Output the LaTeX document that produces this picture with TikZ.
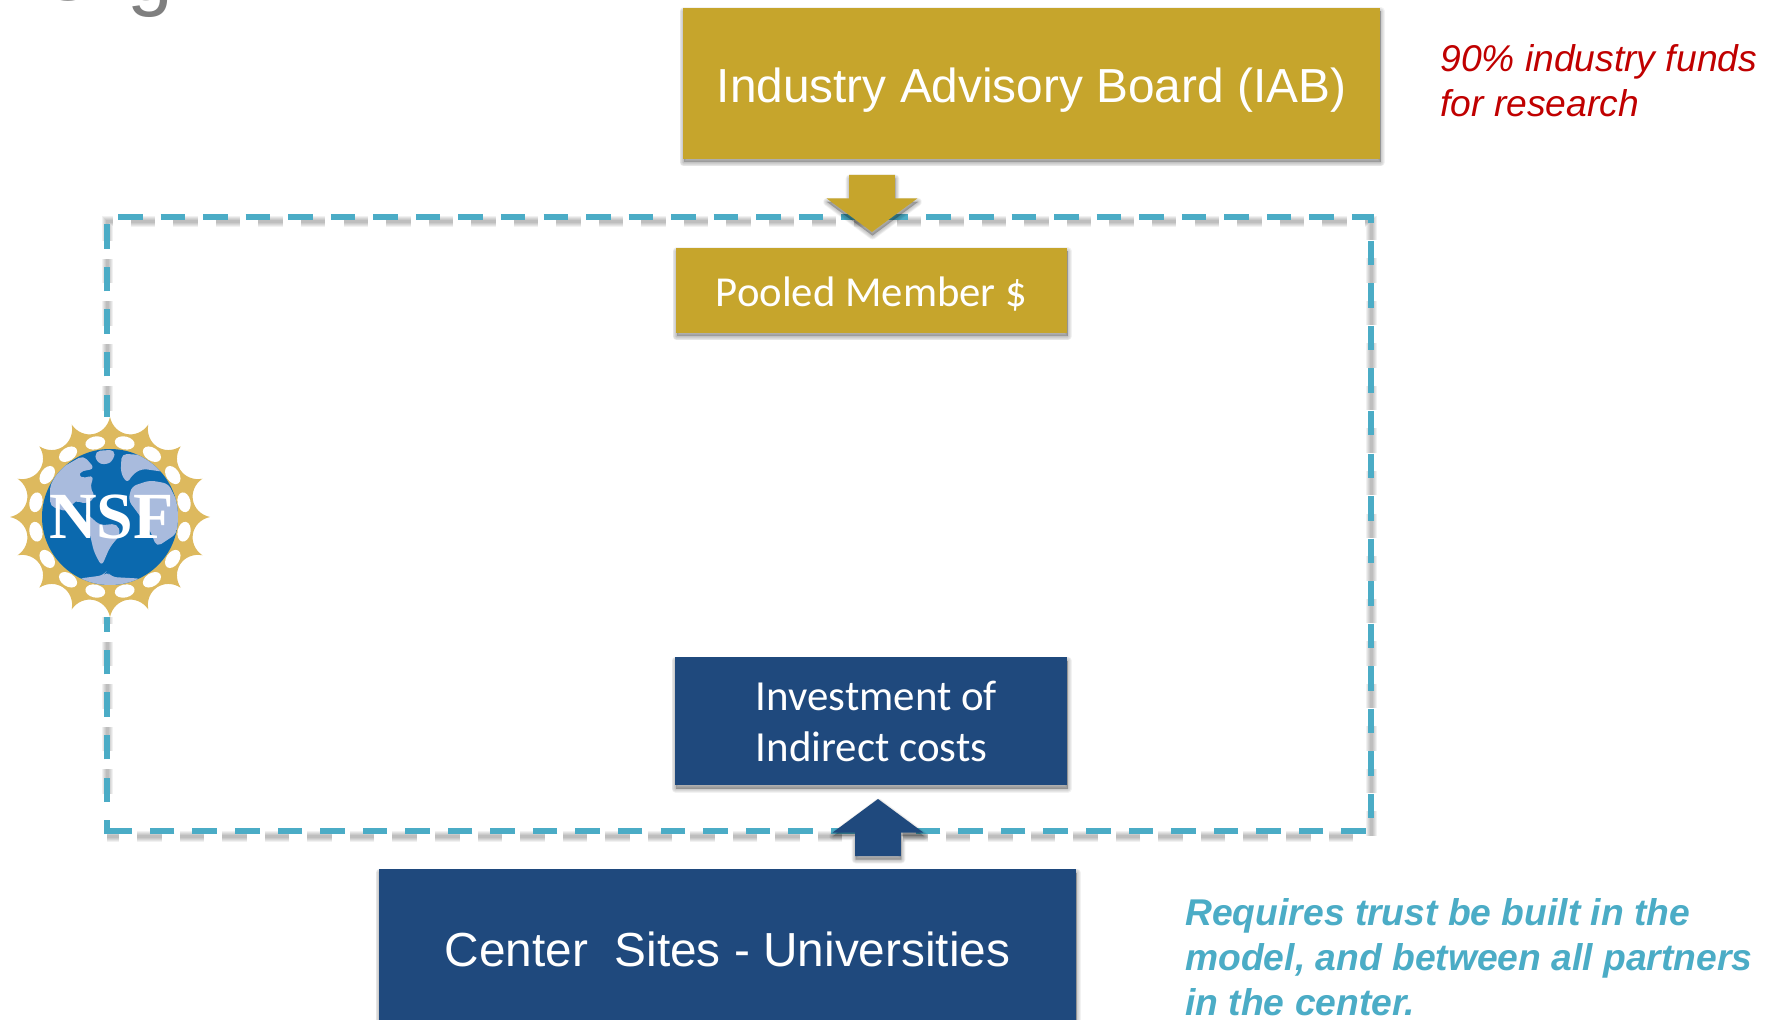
\documentclass[tikz,border=0pt]{standalone}
\usepackage{fontspec}
\setmainfont{Liberation Sans}
\newfontfamily\carl{Carlito}
\newfontfamily\lserif{Liberation Serif}
\usetikzlibrary{shapes.arrows,shapes.geometric}
\definecolor{goldbox}{HTML}{C6A52C}
\definecolor{navybox}{HTML}{1F497D}
\definecolor{tealline}{HTML}{4BACC6}
\definecolor{redtxt}{HTML}{C00000}
\definecolor{titlegray}{HTML}{7F7F7F}
\definecolor{nsfgold}{HTML}{DDB95E}
\definecolor{nsfsea}{HTML}{0B69AE}
\definecolor{nsfland}{HTML}{A9BBDD}
\def\u{0.02cm}
\newcommand{\fsz}[2]{\fontsize{#1pt}{#2pt}\selectfont}
\tikzset{
  x=0.02cm,y=-0.02cm,
  softlayer/.style={preaction={draw=black,fill=black,draw opacity=0.05,fill opacity=0.05,line join=round,line width=#1*\u,transform canvas={shift={(0.5,3.5)}}}},
  softshadow/.style={softlayer=8,softlayer=6.5,softlayer=5,softlayer=3,softlayer=1},
  boxbase/.style={rectangle,inner sep=0pt,outer sep=0pt,text=white,align=center,softshadow},
  goldnode/.style={boxbase,fill=goldbox},
  navynode/.style={boxbase,fill=navybox},
  blockarrow/.style={single arrow,single arrow head indent=0pt,single arrow tip angle=107,single arrow head extend=22.5*\u,minimum height=57*\u,inner xsep=0pt,inner ysep=22.5*\u,outer sep=0pt,anchor=tip,softshadow},
  dashframe/.style={draw=tealline,line width=6*\u,line join=miter,dash pattern=on 24.5*\u off 18.05*\u},
  dashshade/.style={draw=black,draw opacity=0.055,line width=#1*\u,dash pattern=on 24.5*\u off 18.05*\u,dash phase=29.5*\u},
}
\begin{document}
\begin{tikzpicture}
\path[use as bounding box,clip] (0,0) rectangle (1776,1020);
\fill[white] (0,0) rectangle (1776,1020);

% cropped slide title
\node[anchor=base west,inner sep=0pt,text=titlegray,font=\fsz{46.7}{50}] (title) at (36,0.5) {Org};

% dashed frame with its shadow
\foreach \w in {11,9,7,5,3}{
  \draw[dashshade=\w] (107,807) -- (107,222) -- (1371,222) -- (1371,836) -- (107,836);
}
\draw[dashframe] (107,802) -- (107,217.3) -- (1371,217.3) -- (1371,831.3) -- (104,831.3);
\draw[draw=tealline,line width=6*\u] (107,834) -- (107,820);

% block arrows
\node[blockarrow,fill=goldbox,rotate=-90] (down) at (872,232) {};
\node[blockarrow,fill=navybox,rotate=90] (up) at (878,799) {};

% boxes
\node[goldnode,minimum width=697*\u,minimum height=151*\u,font=\fsz{27.2}{30}] (iab) at (1031.5,83.5) {\raisebox{-0.38cm}[0pt][0pt]{Industry Advisory Board (IAB)}};
\node[goldnode,minimum width=391*\u,minimum height=85*\u,font=\carl\fsz{24.3}{26}] (pool) at (871.5,290.5) {\raisebox{-0.33cm}[0pt][0pt]{Pooled Member \$}};
\node[navynode,minimum width=392*\u,minimum height=128*\u] (inv) at (871,721) {};
\node[navynode,minimum width=697*\u,minimum height=160*\u,font=\fsz{27.2}{30}] (site) at (727.5,949) {Center\ \ Sites - Universities};
\node[anchor=base west,inner sep=0pt,text=white,font=\carl\fsz{24.4}{26}] (inv1) at (755.5,710.5) {Investment of};
\node[anchor=base west,inner sep=0pt,text=white,font=\carl\fsz{24.4}{26}] (inv2) at (755.5,761.5) {Indirect costs};

% side notes
\node[anchor=base west,inner sep=0pt,text=redtxt,font=\itshape\fsz{21.2}{25}] (red1) at (1440,72) {90\% industry funds};
\node[anchor=base west,inner sep=0pt,text=redtxt,font=\itshape\fsz{21.2}{25}] (red2) at (1440,117) {for research};
\node[anchor=base west,inner sep=0pt,text=tealline,font=\bfseries\itshape\fsz{21.2}{25}] (note1) at (1185,925) {Requires trust be built in the};
\node[anchor=base west,inner sep=0pt,text=tealline,font=\bfseries\itshape\fsz{21.2}{25}] (note2) at (1185,970) {model, and between all partners};
\node[anchor=base west,inner sep=0pt,text=tealline,font=\bfseries\itshape\fsz{21.2}{25}] (note3) at (1185,1015) {in the center.};

% NSF logo
\fill[white] (0,417) rectangle (225,617);
\begin{scope}[shift={(110,517)}]
  \fill[nsfgold] (90:100)
    \foreach \a in {90,112.5,...,427.5}{
      .. controls ({\a+3}:81) and ({\a+19.5}:81) .. ({\a+22.5}:100)
    } -- cycle;
  \foreach \a in {11.25,33.75,...,348.75}{
    \fill[white,shift={(\a:75.5)},rotate=-\a] (0,0) ellipse [x radius=6.5,y radius=10];
  }
  \fill[nsfsea] (0,0) circle[radius=68];
  \begin{scope}
    \clip (0,0) circle[radius=68];
    \begin{scope}[x=0.00667cm,y=-0.00667cm,shift={(-330,-350)}]
      \fill[nsfland,rounded corners=3pt] (250,165) -- (285,205) -- (235,215) -- (240,235) -- (282,225) -- (270,262) -- (288,292) -- (255,312) -- (225,298) -- (205,335) -- (150,318) -- (150,255) -- (180,205) -- cycle;
      \fill[nsfland,rounded corners=3pt] (285,152) -- (345,148) -- (342,178) -- (318,195) -- (288,185) -- cycle;
      \fill[nsfland,rounded corners=3pt] (255,335) -- (300,375) -- (352,370) -- (362,402) -- (330,440) -- (305,498) -- (282,455) -- (268,395) -- cycle;
      \fill[nsfland,rounded corners=3pt] (365,160) -- (440,165) -- (495,215) -- (425,205) -- (395,225) -- (382,250) -- (362,218) -- cycle;
      \fill[nsfland,rounded corners=3pt] (395,258) -- (450,240) -- (505,250) -- (540,320) -- (530,400) -- (470,440) -- (450,390) -- (415,340) -- (385,300) -- cycle;
      \fill[nsfland,rounded corners=3pt] (235,535) -- (310,525) -- (320,512) -- (335,530) -- (425,535) -- (400,570) -- (260,570) -- cycle;
    \end{scope}
  \end{scope}
  \node[inner sep=0pt,text=white,font=\lserif\bfseries\fsz{37.5}{38}] (nsf) at (1.5,0) {NSF};
\end{scope}
\end{tikzpicture}
\end{document}
